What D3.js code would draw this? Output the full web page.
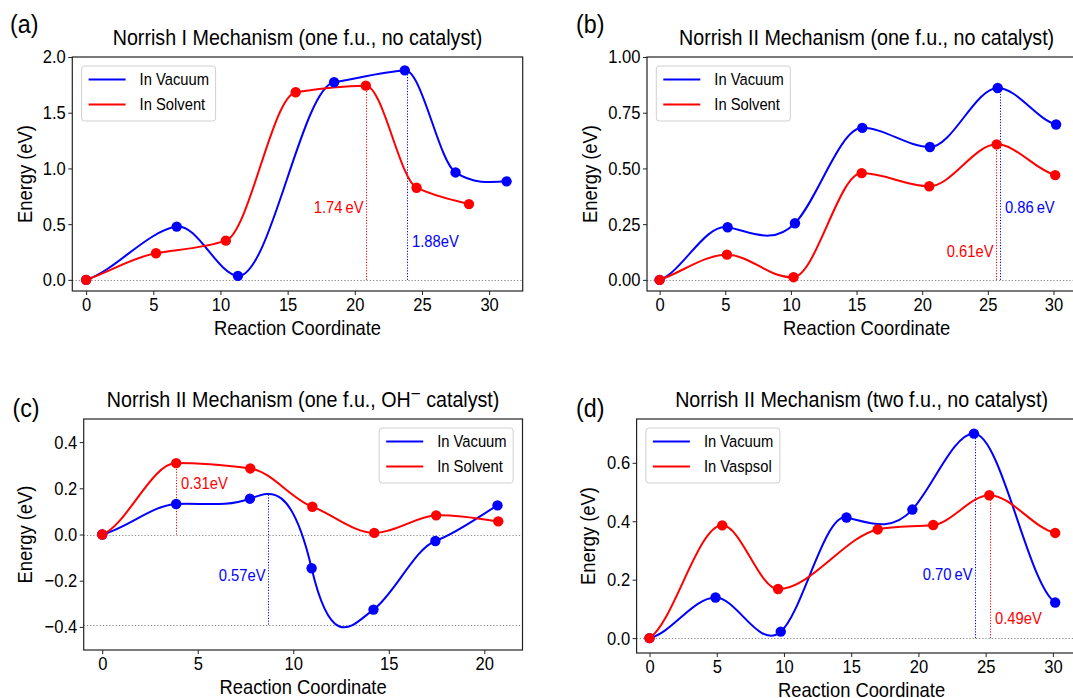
<!DOCTYPE html>
<html lang="en">
<head>
<meta charset="UTF-8">
<title>Norrish mechanisms - energy profiles</title>
<script src="https://d3js.org/d3.v7.min.js"></script>
<style>
  body { margin: 0; background: #fff; }
  svg { display: block; font-family: "Liberation Sans", Arial, Helvetica, sans-serif; }
  .tick text { font-size: 18.5px; fill: #000; }
  .tick line { stroke: #222; stroke-width: 1; }
</style>
</head>
<body>
<script>
// ---- data ----
// images: reaction coordinate, energy (eV), and the slope of the band at each image
const aVacX = [0, 6.74, 11.3, 18.46, 23.72, 27.5, 31.3];
const aVacY = [0, 0.478, 0.036, 1.773, 1.88, 0.964, 0.884];
const aVacS = [0.04, 0.02, -0.01, 0.02, 0.01, -0.08, 0.01];
const aSolX = [0, 5.2, 10.4, 15.6, 20.82, 24.6, 28.5];
const aSolY = [0, 0.239, 0.352, 1.684, 1.743, 0.827, 0.68];
const aSolS = [0.04, 0.02, 0.04, 0.02, 0, -0.06, -0.03];

const bVacX = [0, 5.18, 10.31, 15.44, 20.59, 25.75, 30.2];
const bVacY = [0, 0.236, 0.254, 0.682, 0.596, 0.861, 0.697];
const bVacS = [0.02, -0.01, 0.06, 0, 0, 0, -0.015];
const bSolX = [0, 5.13, 10.2, 15.39, 20.54, 25.67, 30.13];
const bSolY = [0, 0.113, 0.012, 0.479, 0.42, 0.608, 0.47];
const bSolS = [0.02, 0, 0.005, 0, 0, 0, -0.015];

const cVacX = [0, 3.87, 7.73, 10.96, 14.2, 17.44, 20.69];
const cVacY = [0, 0.132, 0.155, -0.146, -0.325, -0.028, 0.126];
const cVacS = [0.02, 0.005, 0.03, -0.35, 0.06, 0.03, 0.05];
const cSolX = [0, 3.87, 7.75, 11.0, 14.24, 17.48, 20.73];
const cSolY = [0, 0.309, 0.286, 0.12, 0.007, 0.083, 0.057];
const cSolS = [0.03, 0, -0.01, -0.03, 0, 0.005, -0.01];

const dVacX = [0, 4.91, 9.76, 14.65, 19.55, 24.13, 30.17];
const dVacY = [0, 0.139, 0.022, 0.413, 0.44, 0.70, 0.122];
const dVacS = [0.01, 0, 0.04, -0.01, 0.05, 0, -0.03];
const dSolX = [0, 5.41, 9.56, 16.97, 21.1, 25.27, 30.17];
const dSolY = [0, 0.386, 0.168, 0.372, 0.387, 0.489, 0.36];
const dSolS = [0.03, 0, 0, 0.01, 0.005, 0, -0.01];

// barrier markers: [vacuum, solvent]
const aBarX = [23.9, 20.8],  aBarFrom = [0, 0], aBarTo = [1.88, 1.743], aBarText = ["1.88eV", "1.74\u2009eV"];
const bBarX = [25.95, 25.64], bBarFrom = [0, 0], bBarTo = [0.861, 0.608], bBarText = ["0.86\u2009eV", "0.61eV"];
const cBarX = [8.69, 3.87],  cBarFrom = [-0.39, 0], cBarTo = [0.175, 0.309], cBarText = ["0.57eV", "0.31eV"];
const dBarX = [24.2, 25.3],  dBarFrom = [0, 0], dBarTo = [0.70, 0.489], dBarText = ["0.70\u2009eV", "0.49eV"];

const refLinesA = [0], refLinesB = [0], refLinesC = [0, -0.39], refLinesD = [0];

const ticks30 = [0, 5, 10, 15, 20, 25, 30];
const ticks20 = [0, 5, 10, 15, 20];
const aTicksY = [0, 0.5, 1.0, 1.5, 2.0];
const bTicksY = [0, 0.25, 0.5, 0.75, 1.0];
const cTicksY = [-0.4, -0.2, 0, 0.2, 0.4];
const dTicksY = [0, 0.2, 0.4, 0.6];

const legendSolvent = ["In Vacuum", "In Solvent"];
const legendVaspsol = ["In Vacuum", "In Vaspsol"];

const BLUE = "#0000ff", RED = "#ff0000";

// ---- layout ----
const W = 1073, H = 698;
const panels = [
  { tag: "(a)", tagXY: [10, 33], title: "Norrish I Mechanism (one f.u., no catalyst)",
    box: { left: 72.3, right: 522.7, top: 57, bottom: 291 }, xDomain: [-1.03, 32.5], yDomain: [-0.1, 2.0],
    xTicks: ticks30, yTicks: aTicksY, yFmt: ".1f",
    vac: [aVacX, aVacY, aVacS], sol: [aSolX, aSolY, aSolS],
    names: legendSolvent, legendRight: false, ylabelX: 32, refs: refLinesA,
    bar: [aBarX, aBarFrom, aBarTo, aBarText], barLabel: [[0.298, "start"], [0.597, "end"]] },
  { tag: "(b)", tagXY: [576, 33], title: "Norrish II Mechanism (one f.u., no catalyst)",
    box: { left: 647, right: 1086.3, top: 57, bottom: 291 }, xDomain: [-0.96, 32.5], yDomain: [-0.05, 1.0],
    xTicks: ticks30, yTicks: bTicksY, yFmt: ".2f",
    vac: [bVacX, bVacY, bVacS], sol: [bSolX, bSolY, bSolS],
    names: legendSolvent, legendRight: false, ylabelX: 597, refs: refLinesB,
    bar: [bBarX, bBarFrom, bBarTo, bBarText], barLabel: [[0.299, "start"], [0.102, "end"]] },
  { tag: "(c)", tagXY: [12.4, 417], title: null,
    box: { left: 83.7, right: 522.5, top: 419, bottom: 650 }, xDomain: [-0.97, 22], yDomain: [-0.5, 0.5],
    xTicks: ticks20, yTicks: cTicksY, yFmt: ".1f",
    vac: [cVacX, cVacY, cVacS], sol: [cSolX, cSolY, cSolS],
    names: legendSolvent, legendRight: true, ylabelX: 32, refs: refLinesC,
    bar: [cBarX, cBarFrom, cBarTo, cBarText], barLabel: [[-0.2, "end"], [0.199, "start"]] },
  { tag: "(d)", tagXY: [576, 417], title: "Norrish II Mechanism (two f.u., no catalyst)",
    box: { left: 636.6, right: 1086.5, top: 419, bottom: 653 }, xDomain: [-0.96, 32.5], yDomain: [-0.051, 0.75],
    xTicks: ticks30, yTicks: dTicksY, yFmt: ".1f",
    vac: [dVacX, dVacY, dVacS], sol: [dSolX, dSolY, dSolS],
    names: legendVaspsol, legendRight: false, ylabelX: 595, refs: refLinesD,
    bar: [dBarX, dBarFrom, dBarTo, dBarText], barLabel: [[0.2, "end"], [0.049, "start"]] }
];

// cubic Hermite band through the images, with the read-off slopes, as bezier segments
function bandPath(xs, ys, ss, x, y) {
  const p = d3.path();
  p.moveTo(x(xs[0]), y(ys[0]));
  for (let i = 0; i < xs.length - 1; i++) {
    const h = xs[i + 1] - xs[i];
    p.bezierCurveTo(
      x(xs[i] + h / 3), y(ys[i] + ss[i] * h / 3),
      x(xs[i + 1] - h / 3), y(ys[i + 1] - ss[i + 1] * h / 3),
      x(xs[i + 1]), y(ys[i + 1]));
  }
  return p.toString();
}

const svg = d3.select("body").append("svg").attr("width", W).attr("height", H);
svg.append("rect").attr("width", W).attr("height", H).attr("fill", "#fff");

panels.forEach(p => {
  const b = p.box;
  const x = d3.scaleLinear().domain(p.xDomain).range([b.left, b.right]);
  const y = d3.scaleLinear().domain(p.yDomain).range([b.bottom, b.top]);
  const g = svg.append("g");
  const cols = [BLUE, RED];

  // dotted reference lines
  p.refs.forEach(v => {
    const yy = Math.round(y(v)) + 0.5;
    g.append("line")
      .attr("x1", b.left).attr("x2", b.right).attr("y1", yy).attr("y2", yy)
      .attr("stroke", "#888").attr("stroke-width", 1.1).attr("stroke-dasharray", "1.2,2");
  });

  // barrier markers
  const [bx, bf, bt, btxt] = p.bar;
  bx.forEach((v, i) => {
    const xx = Math.round(x(v)) + 0.5;
    g.append("line")
      .attr("x1", xx).attr("x2", xx).attr("y1", y(bf[i])).attr("y2", y(bt[i]))
      .attr("stroke", cols[i]).attr("stroke-width", 1).attr("stroke-dasharray", "1.2,1.6");
    const [ly, anchor] = p.barLabel[i];
    g.append("text")
      .attr("x", xx + (anchor === "start" ? 4.5 : -3))
      .attr("y", y(ly))
      .attr("text-anchor", anchor)
      .attr("fill", cols[i])
      .style("font-size", "16.5px")
      .text(btxt[i]);
  });

  // bands + images
  const series = [
    { xs: p.vac[0], ys: p.vac[1], ss: p.vac[2], color: BLUE },
    { xs: p.sol[0], ys: p.sol[1], ss: p.sol[2], color: RED }
  ];
  series.forEach(s => {
    g.append("path")
      .attr("d", bandPath(s.xs, s.ys, s.ss, x, y)).attr("fill", "none")
      .attr("stroke", s.color).attr("stroke-width", 2);
  });
  series.forEach(s => {
    const pts = s.xs.map((v, i) => [v, s.ys[i]]);
    g.selectAll(null).data(pts).enter().append("circle")
      .attr("cx", d => x(d[0])).attr("cy", d => y(d[1]))
      .attr("r", 5.2).attr("fill", s.color);
  });

  // axes
  g.append("g").attr("transform", `translate(0,${b.bottom})`)
    .call(d3.axisBottom(x).tickValues(p.xTicks).tickSize(4).tickPadding(3).tickFormat(d3.format("d")))
    .call(a => a.select(".domain").remove());
  g.append("g").attr("transform", `translate(${b.left},0)`)
    .call(d3.axisLeft(y).tickValues(p.yTicks).tickSize(4).tickPadding(2.5).tickFormat(d3.format(p.yFmt)))
    .call(a => a.select(".domain").remove());
  g.selectAll(".tick text").attr("font-family", null).attr("font-size", null);

  // frame
  g.append("rect")
    .attr("x", b.left).attr("y", b.top)
    .attr("width", b.right - b.left).attr("height", b.bottom - b.top)
    .attr("fill", "none").attr("stroke", "#222").attr("stroke-width", 1.2);

  // legend
  const lw = 134, lh = 55;
  const lx = p.legendRight ? b.right - 9.3 - lw : b.left + 9.3;
  const ly = b.top + 9;
  const lg = g.append("g");
  lg.append("rect").attr("x", lx).attr("y", ly).attr("width", lw).attr("height", lh)
    .attr("rx", 3).attr("fill", "#fff").attr("fill-opacity", 0.85)
    .attr("stroke", "#d0d0d0").attr("stroke-width", 1);
  p.names.forEach((n, i) => {
    const ry = ly + 13.5 + i * 25;
    lg.append("line").attr("x1", lx + 7).attr("x2", lx + 44).attr("y1", ry).attr("y2", ry)
      .attr("stroke", cols[i]).attr("stroke-width", 2);
    lg.append("text").attr("x", lx + 58).attr("y", ry + 6)
      .style("font-size", "16.5px").text(n);
  });

  // titles and labels
  const cx = (b.left + b.right) / 2;
  const t = g.append("text").attr("x", cx).attr("y", b.top - 12)
    .attr("text-anchor", "middle").style("font-size", "22px");
  if (p.title) {
    t.text(p.title);
  } else {
    t.append("tspan").text("Norrish II Mechanism (one f.u., OH");
    t.append("tspan").attr("dy", -7).style("font-size", "19px").text("\u2212");
    t.append("tspan").attr("dy", 7).text(" catalyst)");
  }
  g.append("text").attr("x", cx).attr("y", b.bottom + 44)
    .attr("text-anchor", "middle").style("font-size", "20.5px").text("Reaction Coordinate");
  g.append("text")
    .attr("transform", `translate(${p.ylabelX},${(b.top + b.bottom) / 2}) rotate(-90)`)
    .attr("text-anchor", "middle").style("font-size", "20.5px").text("Energy (eV)");
  g.append("text").attr("x", p.tagXY[0]).attr("y", p.tagXY[1])
    .style("font-size", "26px").text(p.tag);
});

// the original lettering is a narrow sans; squeeze every label along its baseline
const SQ = 0.895;
svg.selectAll("text").each(function () {
  const el = d3.select(this);
  const ax = +(el.attr("x") || 0);
  const prev = el.attr("transform") || "";
  el.attr("transform", `${prev} translate(${ax},0) scale(${SQ},1) translate(${-ax},0)`.trim());
});
</script>
</body>
</html>
